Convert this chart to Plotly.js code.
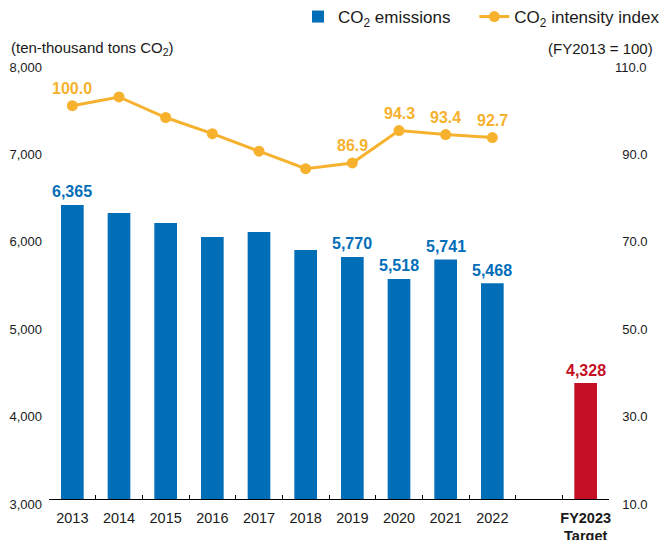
<!DOCTYPE html>
<html>
<head>
<meta charset="utf-8">
<script src="https://cdn.plot.ly/plotly-3.0.1.min.js"></script>
<style>
  html, body { margin: 0; padding: 0; background: #fff; }
  #chart { width: 664px; height: 540px; }
</style>
</head>
<body>
<div id="chart"></div>
<script>
// ---- data ----
const years = ["2013", "2014", "2015", "2016", "2017", "2018", "2019", "2020", "2021", "2022"];
const emissions = [6365, 6272, 6158, 5998, 6055, 5849, 5770, 5518, 5741, 5468];
const intensity = [100.0, 102.0, 97.3, 93.6, 89.6, 85.6, 86.9, 94.3, 93.4, 92.7];
const gapCategory = " ";
const targetCategory = "<b>FY2023</b><br><b>Target</b>";
const targetEmissions = [4328];
const labelledYears = ["2013", "2019", "2020", "2021", "2022"];
const leftTicks = [3000, 4000, 5000, 6000, 7000, 8000];
const rightTicks = [10, 30, 50, 70, 90, 110];

// ---- styles ----
const BLUE = "#036EB8";
const ORANGE = "#F6B22E";
const RED = "#C40F25";
const FONT = "Liberation Sans, Arial, sans-serif";
const TXT = "#1a1a1a";
const LEGEND_PAD = "\u00a0\u00a0\u00a0\u00a0";

const categories = years.concat([gapCategory, targetCategory]);

const traces = [
  {
    type: "bar", name: "CO<sub>2</sub> emissions" + LEGEND_PAD,
    x: years, y: emissions,
    marker: { color: BLUE },
    hoverinfo: "skip"
  },
  {
    type: "bar", name: "target", showlegend: false,
    x: [gapCategory, targetCategory], y: [null].concat(targetEmissions),
    marker: { color: RED },
    hoverinfo: "skip"
  },
  {
    type: "scatter", mode: "lines+markers", name: "CO<sub>2</sub> intensity index",
    x: years, y: intensity, yaxis: "y2",
    line: { color: ORANGE, width: 3 },
    marker: { color: ORANGE, size: 11 },
    cliponaxis: false,
    hoverinfo: "skip"
  }
];

const annotations = [];
years.forEach((yr, i) => {
  if (labelledYears.indexOf(yr) < 0) return;
  const xi = categories.indexOf(yr);
  annotations.push({
    x: xi, y: emissions[i], xref: "x", yref: "y",
    text: "<b>" + emissions[i].toLocaleString("en-US") + "</b>",
    showarrow: false, yanchor: "middle", yshift: 13,
    font: { family: FONT, size: 16, color: BLUE }
  });
  annotations.push({
    x: xi, y: intensity[i], xref: "x", yref: "y2",
    text: "<b>" + intensity[i].toFixed(1) + "</b>",
    showarrow: false, yanchor: "middle", yshift: 17,
    font: { family: FONT, size: 16, color: ORANGE }
  });
});
annotations.push({
  x: categories.indexOf(targetCategory), y: targetEmissions[0], xref: "x", yref: "y",
  text: "<b>" + targetEmissions[0].toLocaleString("en-US") + "</b>",
  showarrow: false, yanchor: "middle", yshift: 12,
  font: { family: FONT, size: 16, color: RED }
});
annotations.push({
  x: -0.0714, y: 1.032, xref: "paper", yref: "paper",
  xanchor: "left", yanchor: "middle", showarrow: false,
  text: "(ten-thousand tons CO<sub>2</sub>)",
  font: { family: FONT, size: 15, color: TXT }
});
annotations.push({
  x: 1.082, y: 1.032, xref: "paper", yref: "paper",
  xanchor: "right", yanchor: "middle", showarrow: false,
  text: "(FY2013 = 100)",
  font: { family: FONT, size: 15, color: TXT }
});

const layout = {
  width: 664, height: 540,
  margin: { l: 49, r: 55, t: 62, b: 41, autoexpand: false },
  paper_bgcolor: "#fff", plot_bgcolor: "#fff",
  font: { family: FONT, color: TXT },
  barmode: "overlay",
  bargap: 0.514,
  showlegend: true,
  legend: {
    orientation: "h", x: 1.1, xanchor: "right", y: 1.103, yanchor: "middle",
    font: { family: FONT, size: 17, color: TXT },
    bgcolor: "rgba(0,0,0,0)", itemwidth: 30, traceorder: "normal"
  },
  xaxis: {
    type: "category", categoryorder: "array", categoryarray: categories,
    range: [-0.5, categories.length - 0.5],
    showline: true, linecolor: "#000", linewidth: 1.2,
    ticks: "inside", ticklen: 4, tickcolor: "#000", tickwidth: 1, tickson: "boundaries",
    tickangle: 0, automargin: false, ticklabelstandoff: 5,
    tickfont: { family: FONT, size: 14.5, color: TXT },
    showgrid: false, zeroline: false, fixedrange: true
  },
  yaxis: {
    range: [3000, 8000], tickvals: leftTicks, tickformat: ",",
    showline: false, ticks: "", showgrid: false, zeroline: false, automargin: false,
    tickfont: { family: FONT, size: 13, color: TXT },
    ticklabelstandoff: 6, ticklabelshift: 5, fixedrange: true
  },
  yaxis2: {
    overlaying: "y", side: "right", range: [10, 110],
    tickvals: rightTicks,
    ticktext: rightTicks.map(v => (v < 100 ? "\u2007" : "") + v.toFixed(1)),
    showline: false, ticks: "", showgrid: false, zeroline: false, automargin: false,
    tickfont: { family: FONT, size: 13, color: TXT },
    ticklabelstandoff: 5, ticklabelshift: 5, fixedrange: true
  },
  annotations: annotations
};

Plotly.newPlot("chart", traces, layout, { displayModeBar: false, staticPlot: true });
</script>
</body>
</html>
